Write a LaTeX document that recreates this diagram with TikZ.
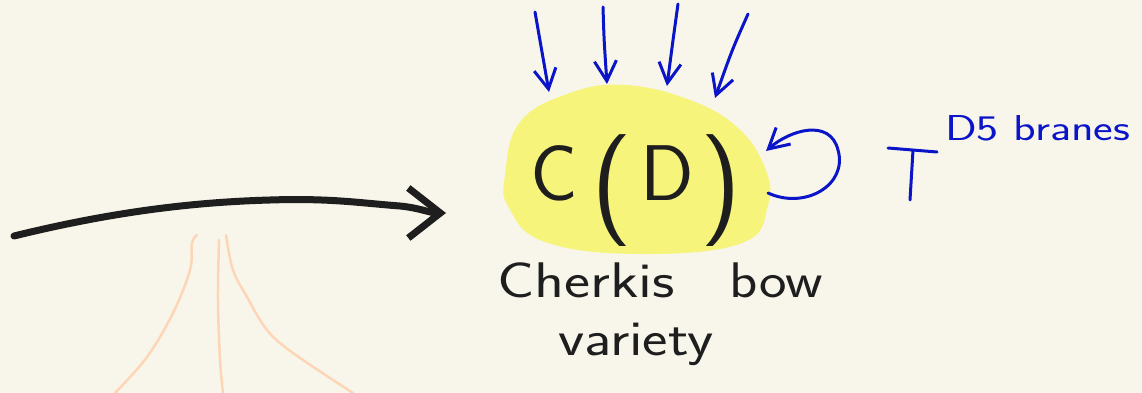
\documentclass[tikz,border=0pt]{standalone}
\usepackage{fontspec}
\usepackage{graphicx}
\usetikzlibrary{arrows.meta}
\definecolor{bg}{HTML}{F8F6EA}
\definecolor{hl}{HTML}{F6F47A}
\definecolor{ink}{HTML}{1E1E1E}
\definecolor{pen}{HTML}{0A14C8}
\definecolor{peach}{HTML}{FDD6B8}
\tikzset{
  bluearrow/.style={draw=pen, line width=3pt, line cap=round, line join=round,
    -{Straight Barb[length=20pt,width=22pt,line width=3pt]}},
  blackarrow/.style={draw=ink, line width=7pt, line cap=round, line join=round,
    -{Straight Barb[length=32pt,width=50pt,line width=7pt]}},
  faint/.style={draw=peach, line width=2.5pt, line cap=round},
  hand/.style={inner sep=0pt, anchor=base west, font=\sffamily},
}
\begin{document}
\begin{tikzpicture}[x=1pt,y=-1pt]
\useasboundingbox[fill=bg] (0,0) rectangle (1142,393);
% highlight blob
\fill[hl] plot[smooth cycle, tension=0.7] coordinates {(505,175) (520,122) (570,93) (625,85) (690,100) (738,128) (765,168) (768,205) (742,243) (640,254) (545,242) (509,208)};
% peach strokes
\draw[faint] plot[smooth, tension=0.6] coordinates {(197,235) (192,243) (190,270) (173,313) (147,357) (115,393)};
\draw[faint] plot[smooth, tension=0.6] coordinates {(219,240) (218,300) (220,360) (223,393)};
\draw[faint] plot[smooth, tension=0.6] coordinates {(226,235) (233,270) (247,297) (267,330) (293,353) (353,393)};
% main text
\node[hand, text=ink] (cd) at (530,200) {\fontsize{79}{79}\selectfont C\hspace{14pt}\raisebox{-18pt}{\fontsize{112}{112}\selectfont(}\hspace{8pt}D\hspace{6pt}\raisebox{-18pt}{\fontsize{112}{112}\selectfont)}};
\node[hand, text=ink] (cher) at (497,297) {\fontsize{50}{50}\selectfont\scalebox{1.24}[1]{Cherkis}\hspace{55pt}\scalebox{1.17}[1]{bow}};
\node[hand, text=ink] (var) at (558,355) {\fontsize{50}{50}\selectfont\scalebox{1.21}[1]{variety}};
\node[hand, text=pen] (d5) at (945,140) {\fontsize{36}{36}\selectfont\scalebox{1.3}[1]{D5 branes}};
% T symbol
\coordinate (tl) at (888,148);
\coordinate (tr) at (937,152);
\coordinate (tt) at (913,150);
\coordinate (tb) at (910,200);
\draw[pen, line width=3pt, line cap=round] (tl) -- (tr) (tt) -- (tb);
% incoming blue arrows
\coordinate (s1) at (535,12);  \coordinate (e1) at (549,92);
\coordinate (s2) at (603,7);   \coordinate (e2) at (607,84);
\coordinate (s3) at (678,4);   \coordinate (e3) at (667,86);
\coordinate (s4) at (748,14);  \coordinate (e4) at (715,98);
\draw[bluearrow] (s1) -- (e1);
\draw[bluearrow] (s2) .. controls (604,40) .. (e2);
\draw[bluearrow] (s3) .. controls (673,40) .. (e3);
\draw[bluearrow] (s4) .. controls (732,50) .. (e4);
% loop arrow
\coordinate (ls) at (768,193);
\coordinate (le) at (766,151);
\draw[bluearrow] (ls) .. controls (805,210) and (848,185) .. (838,150) .. controls (830,118) and (790,130) .. (le);
% black arrow
\coordinate (bs) at (14,236);
\coordinate (be) at (446,213);
\draw[blackarrow] (bs) .. controls (120,210) and (200,202) .. (270,200) .. controls (330,198) and (360,203) .. (400,206) .. controls (420,208) and (430,213) .. (be);
\end{tikzpicture}
\end{document}
